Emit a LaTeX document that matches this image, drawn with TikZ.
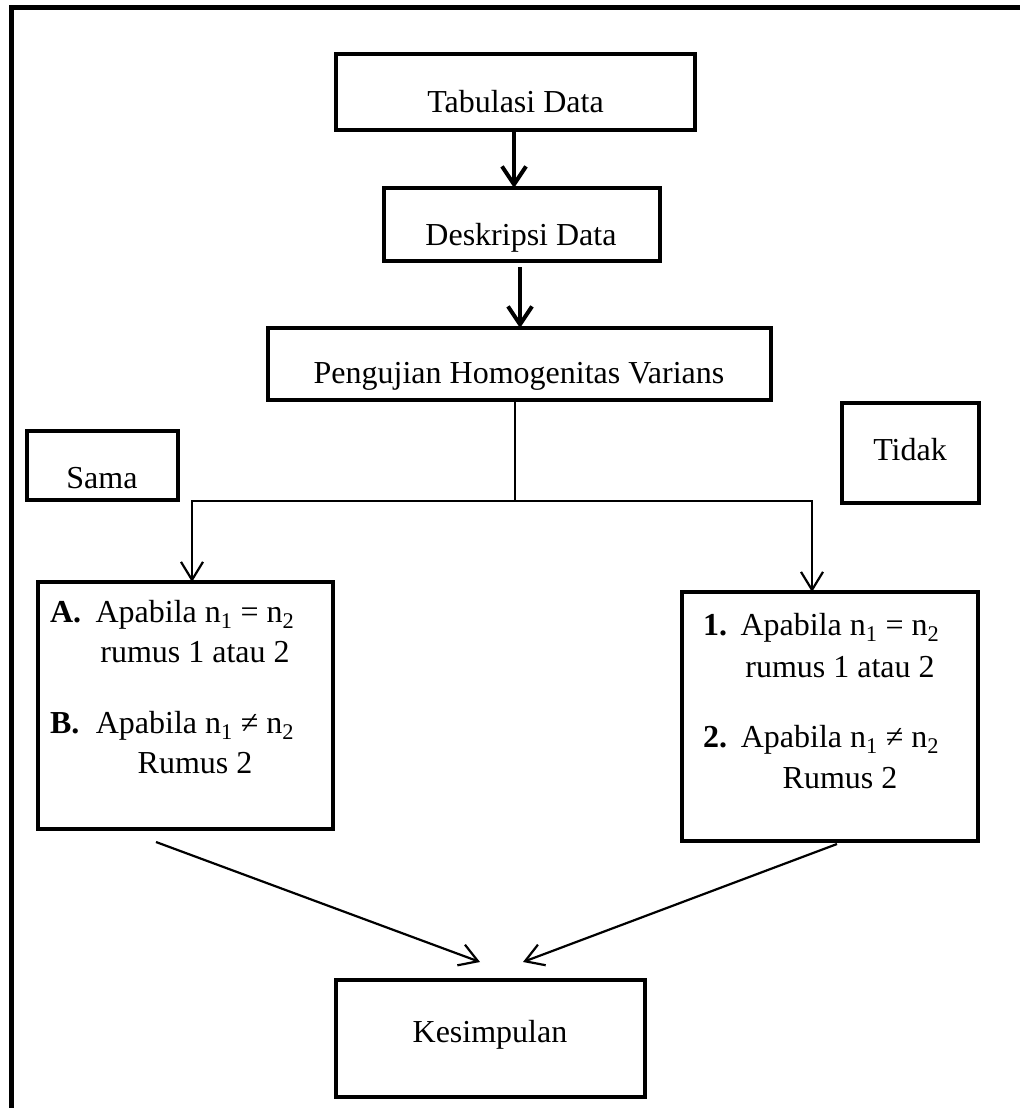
\documentclass[tikz,border=0pt]{standalone}
\usepackage{fontspec}
\setmainfont{Liberation Serif}
\usetikzlibrary{arrows.meta,calc}
\begin{document}
\begin{tikzpicture}[x=1pt,y=-1pt,
  box/.style={draw, line width=4.5pt, rectangle, inner sep=0pt, outer sep=0pt},
  txt/.style={font=\fontsize{32}{40}\selectfont, inner sep=0pt, outer sep=0pt, anchor=base},
  lbl/.style={txt, anchor=base west},
  conn/.style={line width=2.2pt},
  arr/.style={conn, -{Straight Barb[length=18pt,width=22pt]}},
  bigarr/.style={line width=4pt, -{Straight Barb[length=18pt,width=24pt]}}]
\useasboundingbox (0,0) rectangle (1020,1108);
% frame (left and top edges only visible)
\draw[line width=5pt, line join=miter] (11,1108) -- (11,8) -- (1020,8);
% boxes
\node[box, minimum width=359pt, minimum height=76pt] (tab) at (515.5,92) {};
\node[box, minimum width=276pt, minimum height=73pt] (desk) at (522,224.5) {};
\node[box, minimum width=503pt, minimum height=72pt] (peng) at (519.5,364) {};
\node[box, minimum width=151pt, minimum height=69pt] (sama) at (102.5,465.5) {};
\node[box, minimum width=137pt, minimum height=100pt] (tidak) at (910.5,453) {};
\node[box, minimum width=295pt, minimum height=247pt] (lbox) at (185.5,705.5) {};
\node[box, minimum width=296pt, minimum height=249pt] (rbox) at (830,716.5) {};
\node[box, minimum width=309pt, minimum height=117pt] (kes) at (490.5,1038.5) {};
% texts
\node[txt] (ttab) at (515.5,112) {Tabulasi Data};
\node[txt] (tdesk) at (521,245) {Deskripsi Data};
\node[txt] (tpeng) at (519,383) {Pengujian Homogenitas Varians};
\node[txt] (tsama) at (102,488) {Sama};
\node[txt] (ttidak) at (910,460) {Tidak};
\node[txt] (tkes) at (490,1042) {Kesimpulan};
\node[lbl] (la) at (50,622) {\textbf{A.}};
\node[txt] (la1) at (195,622) {Apabila n\textsubscript{1} = n\textsubscript{2}};
\node[txt] (la2) at (195,662) {rumus 1 atau 2};
\node[lbl] (lb) at (50,733) {\textbf{B.}};
\node[txt] (lb1) at (195,733) {Apabila n\textsubscript{1} ≠ n\textsubscript{2}};
\node[txt] (lb2) at (195,773) {Rumus 2};
\node[lbl] (r1) at (703,635) {\textbf{1.}};
\node[txt] (r1a) at (840,635) {Apabila n\textsubscript{1} = n\textsubscript{2}};
\node[txt] (r1b) at (840,677) {rumus 1 atau 2};
\node[lbl] (r2) at (703,747) {\textbf{2.}};
\node[txt] (r2a) at (840,747) {Apabila n\textsubscript{1} ≠ n\textsubscript{2}};
\node[txt] (r2b) at (840,788) {Rumus 2};
% connectors
\draw[bigarr] ([xshift=-1.5pt]tab.south) -- ([xshift=-1.5pt]tab.south |- desk.north);
\draw[bigarr] ([xshift=-2pt,yshift=-6pt]desk.south) -- ([xshift=-2pt]desk.south |- peng.north);
\coordinate (jn) at (515,501);
\coordinate (jl) at (192,501);
\coordinate (jr) at (812,501);
\draw[conn] (jn |- peng.south) -- (jn);
\draw[arr] (jn) -| (jl |- lbox.north);
\draw[arr] (jn) -| (jr |- rbox.north);
\draw[arr] ($(lbox.south)+(-29.5,13)$) -- ($(kes.north)+(-10.5,-18)$);
\draw[arr] ($(rbox.south)+(7,3)$) -- ($(kes.north)+(32.5,-18)$);
\end{tikzpicture}
\end{document}
